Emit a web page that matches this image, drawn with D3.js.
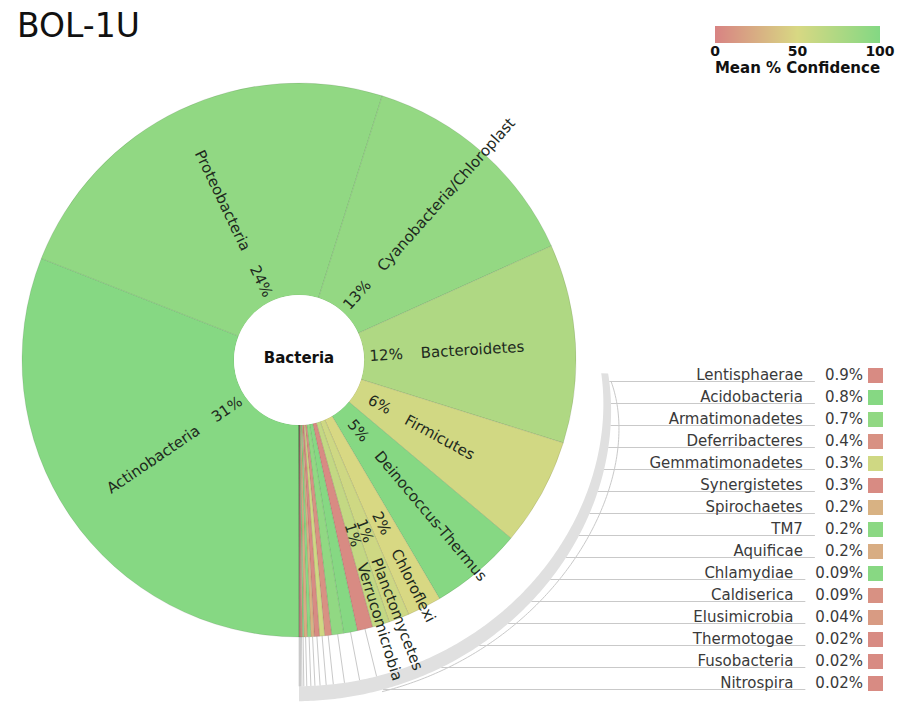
<!DOCTYPE html>
<html><head><meta charset="utf-8">
<script src="https://cdn.jsdelivr.net/npm/d3@7"></script>
<style>
body{margin:0;background:#fff}
svg{display:block;font-family:"DejaVu Sans",Verdana,sans-serif}
</style>
</head><body>
<svg id="chart" width="905" height="714"></svg>
<script>
// ---------------- data ----------------
const title = "BOL-1U";
const rootName = "Bacteria";
const phyla = ["Actinobacteria","Proteobacteria","Cyanobacteria/Chloroplast","Bacteroidetes","Firmicutes",
  "Deinococcus-Thermus","Chloroflexi","Planctomycetes","Verrucomicrobia","Lentisphaerae","Acidobacteria",
  "Armatimonadetes","Deferribacteres","Gemmatimonadetes","Synergistetes","Spirochaetes","TM7","Aquificae",
  "Chlamydiae","Caldiserica","Elusimicrobia","Thermotogae","Fusobacteria","Nitrospira"];
const shares = [31.0, 23.9, 13.4, 11.6, 6.3, 5.4, 2.0, 1.2, 1.0, 0.9, 0.8,
  0.7, 0.4, 0.3, 0.3, 0.2, 0.2, 0.2, 0.09, 0.09, 0.04, 0.02, 0.02, 0.02];
const pctLabels = ["31%","24%","13%","12%","6%","5%","2%","1%","1%","0.9%","0.8%",
  "0.7%","0.4%","0.3%","0.3%","0.2%","0.2%","0.2%","0.09%","0.09%","0.04%","0.02%","0.02%","0.02%"];
const confidence = [98, 92, 90, 74, 54, 98, 50, 56, 62, 5, 98,
  92, 8, 55, 5, 28, 95, 25, 97, 8, 14, 5, 5, 5];
const legendTicks = [0, 50, 100];
const legendTitle = "Mean % Confidence";

// ---------------- layout ----------------
const svg = d3.select("#chart");
const cx = 299, cy = 360, r0 = 65, r1 = 277;
const keyTop = 375, keyStep = 22, pctRight = 863;
const deg = Math.PI / 180;

const hue = d3.scaleLinear().domain([0, 100]).range([0, 120]);
const col = c => d3.hsl(hue(c), 0.52, 0.68).formatHex();

// title
svg.append("text").attr("x", 17).attr("y", 37).attr("font-size", 33).attr("fill", "#111").text(title);

// legend
const lg = svg.append("defs").append("linearGradient").attr("id", "lgGrad");
d3.range(0, 101, 10).forEach(v => lg.append("stop").attr("offset", v + "%").attr("stop-color", col(v)));
const lx = d3.scaleLinear().domain([0, 100]).range([715, 880]);
svg.append("rect").attr("x", lx(0)).attr("y", 26).attr("width", lx(100) - lx(0)).attr("height", 17).attr("fill", "url(#lgGrad)");
svg.selectAll("text.lt").data(legendTicks).join("text").attr("class", "lt")
  .attr("x", d => lx(d)).attr("y", 56).attr("text-anchor", "middle")
  .attr("font-size", 14).attr("font-weight", "bold").attr("fill", "#111").text(d => d);
svg.append("text").attr("x", (lx(0) + lx(100)) / 2).attr("y", 73).attr("text-anchor", "middle")
  .attr("font-size", 15).attr("font-weight", "bold").attr("fill", "#111").text(legendTitle);

// pie
const data = phyla.map((n, i) => ({name: n, v: shares[i], conf: confidence[i], pct: pctLabels[i]}));
const pie = d3.pie().sort(null).value(d => d.v).startAngle(Math.PI).endAngle(3 * Math.PI);
const arcs = pie(data);
const arc = d3.arc().innerRadius(r0).outerRadius(r1);
const g = svg.append("g").attr("transform", `translate(${cx},${cy})`);

const keyed = arcs.filter(d => d.endAngle - d.startAngle < 0.06);
const labeled = arcs.filter(d => d.endAngle - d.startAngle >= 0.06);

// key band (bundle of key lines hugging the ring)
const bandInner = a => 327 - 24 * Math.exp(-(a / deg - 93) / 25);
const bandOuter = a => 343 - 33 * Math.exp(-(a / deg - 93) / 30);
const bandAngles = d3.range(92.5 * deg, 180.01 * deg, 0.5 * deg);
g.append("path").attr("d", d3.areaRadial().angle(a => a).innerRadius(bandInner).outerRadius(bandOuter)(bandAngles))
  .attr("fill", "#e0e0e0");

// helper: x position where horizontal y meets the band's outer edge
function bandX(y) {
  const dy = y - cy;
  let a = 100 * deg;
  for (let k = 0; k < 30; k++) {
    const r = bandOuter(a);
    a = Math.acos(Math.max(-1, Math.min(1, -dy / r)));
  }
  const r = bandOuter(a);
  return cx + r * Math.sin(a);
}

const lineCol = "#c9c9c9";
keyed.forEach((d, i) => {
  const y = keyTop + i * keyStep;
  const ly = y + 6.5;
  const mid = (d.startAngle + d.endAngle) / 2;
  // radial tick from wedge to band
  g.append("path").attr("d", d3.lineRadial()([[mid, r1], [mid, bandInner(mid % (2 * Math.PI))]]))
    .attr("stroke", lineCol).attr("fill", "none").attr("stroke-width", 1);
  // label texts
  const pt = svg.append("text").attr("x", pctRight).attr("y", y + 5).attr("text-anchor", "end")
    .attr("font-size", 15).attr("fill", "#3a3a3a").text(d.data.pct);
  const pw = pt.node().getComputedTextLength();
  svg.append("line").attr("x1", bandX(ly)).attr("x2", pctRight - pw - 10).attr("y1", ly).attr("y2", ly)
    .attr("stroke", lineCol).attr("stroke-width", 1);
  pt.raise();
  svg.append("text").attr("x", pctRight - pw - 22).attr("y", y + 5).attr("text-anchor", "end")
    .attr("font-size", 15).attr("fill", "#3a3a3a").text(d.data.name);
  svg.append("rect").attr("x", 868).attr("y", y - 7).attr("width", 15).attr("height", 15).attr("fill", col(d.data.conf));
});

// first key's thin connector along the outside of the band
if (keyed.length) {
  const k0 = keyed[0];
  const m0 = ((k0.startAngle + k0.endAngle) / 2) % (2 * Math.PI);
  const ly0 = keyTop + 6.5 - cy;
  const rt = a => 342 - 29 * Math.exp(-(a / deg - 94) / 12);
  let a0 = Math.acos(-ly0 / 313);
  g.append("path").attr("d", d3.lineRadial().angle(a => a).radius(rt)(d3.range(a0, m0, 0.5 * deg)))
    .attr("stroke", lineCol).attr("fill", "none").attr("stroke-width", 1);
}

// wedges
g.selectAll("path.s").data(arcs).join("path").attr("class", "s")
  .attr("d", arc).attr("fill", d => col(d.data.conf))
  .attr("stroke", "rgba(0,0,0,0.12)").attr("stroke-width", 0.8);

// center
g.append("circle").attr("r", r0).attr("fill", "#fff");
g.append("text").attr("y", -2).attr("dy", "0.35em").attr("text-anchor", "middle")
  .attr("font-size", 15).attr("font-weight", "bold").attr("fill", "#111").text(rootName);

// wedge labels (radial)
labeled.forEach(d => {
  const m = ((d.startAngle + d.endAngle) / 2) % (2 * Math.PI);
  const md = m / deg;
  const right = m < Math.PI;
  const narrow = (d.endAngle - d.startAngle) < 0.2;
  const pR = narrow ? 195 : 104, nR = narrow ? 213 : 122;
  const lgp = g.append("g").attr("transform", `rotate(${right ? md - 90 : md + 90})`);
  lgp.append("text").attr("x", right ? pR : -pR).attr("dy", "0.35em")
    .attr("text-anchor", right ? "end" : "start").attr("font-size", 15).attr("fill", "#1e2a1e").text(d.data.pct);
  lgp.append("text").attr("x", right ? nR : -nR).attr("dy", "0.35em")
    .attr("text-anchor", right ? "start" : "end").attr("font-size", 15).attr("fill", "#1e2a1e").text(d.data.name);
});
</script>
</body></html>
